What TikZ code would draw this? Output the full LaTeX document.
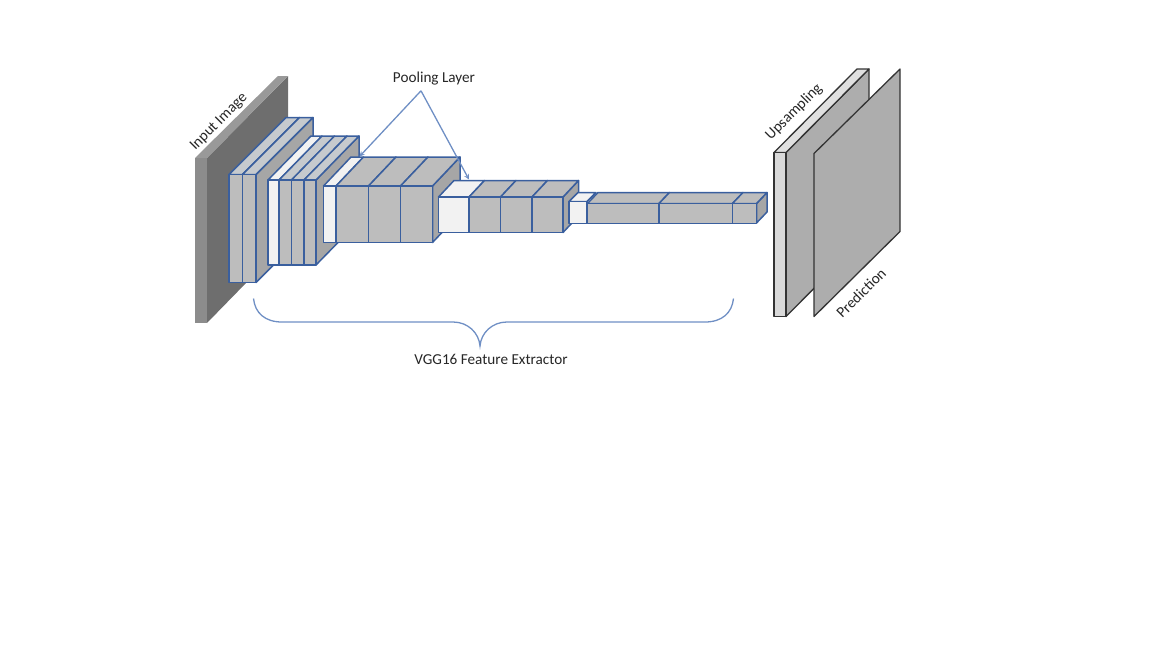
\documentclass[tikz,border=0pt]{standalone}
\usepackage{fontspec}
\setmainfont{Carlito}
\usepackage{xcolor}
\usetikzlibrary{calc}
\definecolor{layerblue}{HTML}{3A5F9E}
\definecolor{leaderblue}{HTML}{6F8FC4}
\definecolor{slabgray}{HTML}{BDBDBD}
\definecolor{toplight}{HTML}{C6CACE}
\definecolor{sidegray}{HTML}{A6A6A6}
\definecolor{slabwhite}{HTML}{F2F2F2}
\tikzset{
	block/.style={draw=layerblue,line width=1.5pt,line join=round},
	plate/.style={draw=black!80,line width=1.3pt,line join=round},
	leader/.style={draw=leaderblue,line width=1.3pt},
	lbl/.style={font=\fontsize{15.2}{17}\selectfont,text=black!85,inner sep=0pt}
}
% #1,#2 left and right, #3,#4 top and bottom, #5,#6 depth, #7 fill, #8 top fill
\newcommand{\layerslab}[8]{
	\draw[block,fill=#8] (#1,#3)--++(#5,#6)--++(#2-#1,0)--(#2,#3)--cycle;
	\draw[block,fill=#7] (#1,#3) rectangle (#2,#4);
}
% #1 right, #2,#3 top and bottom, #4,#5 depth
\newcommand{\layerside}[5]{
	\draw[block,fill=sidegray] (#1,#2)--++(#4,#5)--($(#1,#3)+(#4,#5)$)--(#1,#3)--cycle;
}
\begin{document}
\begin{tikzpicture}[x=1pt,y=-1pt]
	\useasboundingbox (0,0) rectangle (1152,648);
	% input image
	\fill[black!57] (207,158)--(288,76)--(288,240)--(207,323)--cycle;
	\fill[black!40] (195,158)--(278,76)--(288,76)--(207,158)--cycle;
	\fill[black!45] (195,158) rectangle (207,323);
	% first block
	\layerside{256}{174.5}{282.5}{57}{-57}
	\foreach \xa/\xb in {229/242.5,242.5/256}
		\layerslab{\xa}{\xb}{174.5}{282.5}{57}{-57}{slabgray}{toplight};
	% second block
	\layerside{316}{180}{265}{43}{-44}
	\foreach \xa/\xb/\fc/\tc in {268/279/slabwhite/slabwhite,279/291.5/slabgray/toplight,291.5/304/slabgray/toplight,304/316/slabgray/toplight}
		\layerslab{\xa}{\xb}{180}{265}{43}{-44}{\fc}{\tc};
	% third block
	\layerside{432.5}{186}{242.5}{27.5}{-29}
	\foreach \xa/\xb/\fc/\tc in {323.5/336/slabwhite/slabwhite,336/368.5/slabgray/slabgray,368.5/400.5/slabgray/slabgray,400.5/432.5/slabgray/slabgray}
		\layerslab{\xa}{\xb}{186}{242.5}{27.5}{-29}{\fc}{\tc};
	% fourth block
	\layerside{563}{197}{232.5}{15.5}{-16.5}
	\foreach \xa/\xb/\fc/\tc in {438.5/469/slabwhite/slabwhite,469/500.5/slabgray/slabgray,500.5/532/slabgray/slabgray,532/563/slabgray/slabgray}
		\layerslab{\xa}{\xb}{197}{232.5}{15.5}{-16.5}{\fc}{\tc};
	% fifth block
	\layerslab{569}{587}{201.5}{223.5}{9}{-9}{slabwhite}{slabwhite};
	% sixth block
	\layerside{756.5}{203.5}{223}{10.5}{-11}
	\foreach \xa/\xb in {587.5/659,659/732.5,732.5/756.5}
		\layerslab{\xa}{\xb}{203.5}{223.5}{10.5}{-11}{slabgray}{slabgray};
	% upsampling and prediction
	\draw[plate,fill=black!32] (786,152.5)--(869,69)--(869,233)--(786,316.5)--cycle;
	\draw[plate,fill=black!12] (774,152.5)--(857,69)--(869,69)--(786,152.5)--cycle;
	\draw[plate,fill=black!15] (774,152.5) rectangle (786,316.5);
	\draw[plate,fill=black!32] (814,153.5)--(900,69)--(900,231.5)--(814,316.5)--cycle;
	% labels
	\node[lbl,rotate=45] (inputlbl) at (219,122) {Input Image};
	\node[lbl,rotate=45] (upsamplbl) at (794,112) {Upsampling};
	\node[lbl,rotate=45] (predlbl) at (861,293) {Prediction};
	\node[lbl] (pool) at (434,79) {Pooling Layer};
	\node[lbl] (vgg) at (491,359) {VGG16 Feature Extractor};
	% pooling leaders
	\coordinate (poolA) at (359.5,156.5);
	\coordinate (poolB) at (469,179.5);
	\draw[leader,-stealth] ($(pool.south)+(-13,5)$)--(poolA);
	\draw[leader,-stealth] ($(pool.south)+(-13,5)$)--(poolB);
	% brace
	\coordinate (braceL) at (253.5,298.5);
	\coordinate (braceR) at (733.5,298.5);
	\draw[leader] (braceL) .. controls (255,313) and (265,322) .. (282,322)--(453,322) .. controls (468,322) and (479,333) .. (480,346) .. controls (481,333) and (492,322) .. (507,322)--(705,322) .. controls (722,322) and (732,313) .. (braceR);
\end{tikzpicture}
\end{document}
